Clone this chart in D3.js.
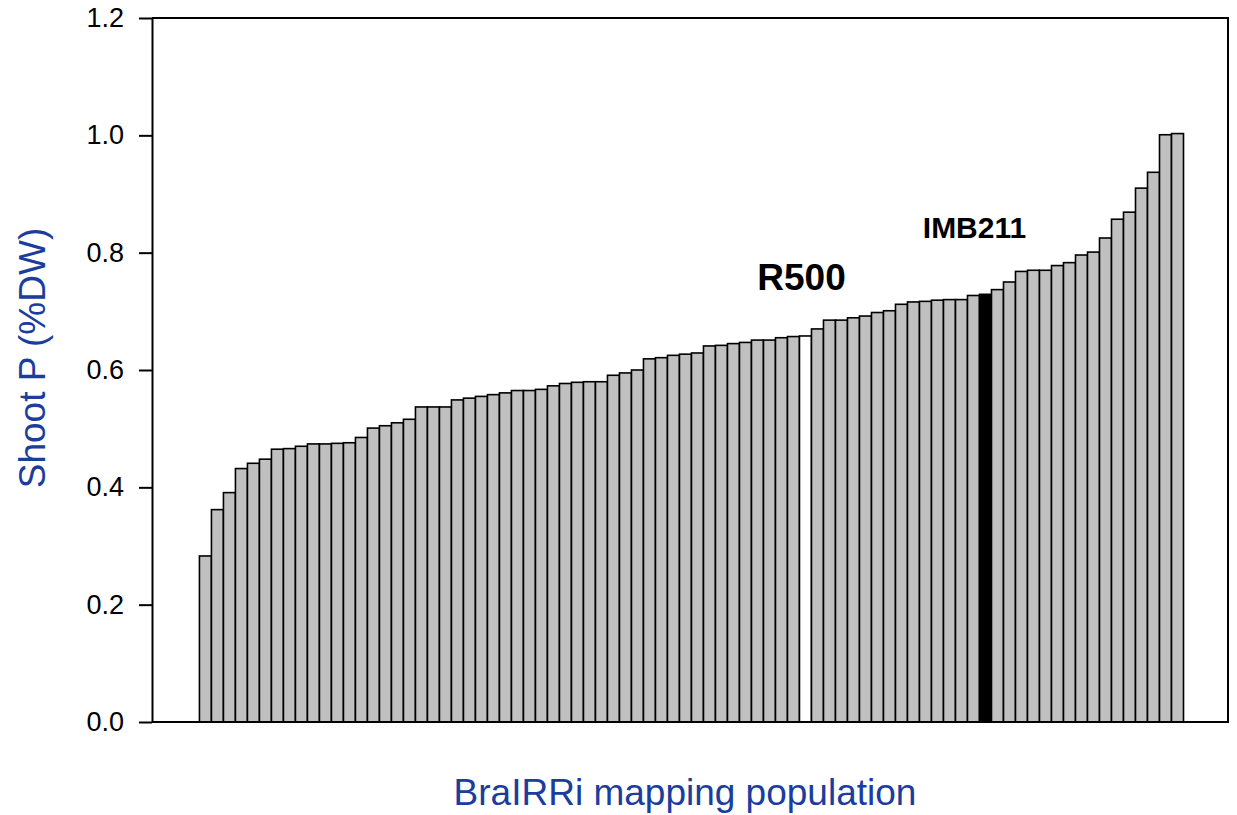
<!DOCTYPE html>
<meta charset="utf-8">
<style>
body { margin: 0; background: #fff; }
text { font-family: "Liberation Sans", Arial, sans-serif; }
.bar { stroke: #000; stroke-width: 1.6px; }
.axis path, .axis line { stroke: #000; stroke-width: 2px; }
.frame { fill: none; stroke: #000; stroke-width: 2px; }
</style>
<div id="chart"></div>
<script src="https://d3js.org/d3.v7.min.js"></script>
<script>
  // shoot P of each line, sorted ascending
  var shootP = [
    0.283, 0.362, 0.391, 0.432, 0.441, 0.448, 0.465, 0.466, 0.470, 0.474,
    0.474, 0.475, 0.476, 0.485, 0.501, 0.505, 0.510, 0.516, 0.537, 0.537,
    0.537, 0.549, 0.552, 0.555, 0.558, 0.561, 0.565, 0.565, 0.567, 0.573,
    0.577, 0.579, 0.580, 0.580, 0.591, 0.595, 0.600, 0.619, 0.621, 0.625,
    0.627, 0.629, 0.641, 0.642, 0.645, 0.647, 0.651, 0.651, 0.655, 0.657,
    0.658, 0.670, 0.685, 0.685, 0.689, 0.692, 0.698, 0.701, 0.712, 0.716,
    0.717, 0.719, 0.720, 0.720, 0.727, 0.729, 0.737, 0.750, 0.768, 0.770,
    0.770, 0.778, 0.783, 0.796, 0.801, 0.825, 0.857, 0.869, 0.910, 0.937,
    1.001, 1.003
  ];
  var lineIds = shootP.map(function(d, i) { return "L" + (i + 1); });
  var parentNames = ["R500", "IMB211"];
  var parentIds = ["L51", "L66"];
  var yTicks = [0, 0.2, 0.4, 0.6, 0.8, 1.0, 1.2];

  var width = 1237, height = 815;
  var plotLeft = 152, plotRight = 1228, plotTop = 18, plotBottom = 722;

  var svg = d3.select("#chart").append("svg")
    .attr("width", width)
    .attr("height", height);

  var x = d3.scaleBand()
    .domain(lineIds)
    .range([plotLeft, plotRight])
    .paddingInner(0)
    .paddingOuter(3.83)
    .align(0.516);

  var y = d3.scaleLinear()
    .domain([0, 1.2])
    .range([plotBottom, plotTop]);

  function barFill(id) {
    if (id === parentIds[0]) return "#ffffff";
    if (id === parentIds[1]) return "#000000";
    return "#c0c0c0";
  }

  svg.selectAll(".bar")
    .data(shootP)
    .enter()
    .append("rect")
    .attr("class", "bar")
    .attr("x", function(d, i) { return x(lineIds[i]); })
    .attr("y", function(d) { return y(d); })
    .attr("width", x.bandwidth())
    .attr("height", function(d) { return plotBottom - y(d); })
    .style("fill", function(d, i) { return barFill(lineIds[i]); });

  // frame (top + right + bottom)
  svg.append("path")
    .attr("class", "frame")
    .attr("d", "M" + plotLeft + "," + plotTop + "H" + plotRight + "V" + plotBottom + "H" + plotLeft);

  var yAxis = svg.append("g")
    .attr("class", "axis")
    .attr("transform", "translate(" + plotLeft + ",0)")
    .call(d3.axisLeft(y)
      .tickValues(yTicks)
      .tickFormat(d3.format(".1f"))
      .tickSizeInner(13)
      .tickSizeOuter(0)
      .tickPadding(15));

  yAxis.selectAll("text")
    .style("font-size", "27px")
    .style("font-family", "'Liberation Sans', Arial, sans-serif")
    .attr("fill", "#000");

  // parent labels
  var labelOffsets = { "R500": [-4, -46, 37], "IMB211": [-11, -56, 30] };
  parentNames.forEach(function(name, k) {
    var id = parentIds[k];
    var v = shootP[lineIds.indexOf(id)];
    var o = labelOffsets[name];
    svg.append("text")
      .attr("x", x(id) + x.bandwidth() / 2 + o[0])
      .attr("y", y(v) + o[1])
      .attr("text-anchor", "middle")
      .style("font-size", o[2] + "px")
      .style("font-weight", "bold")
      .text(name);
  });

  svg.append("text")
    .attr("transform", "translate(45,358) rotate(-90)")
    .attr("text-anchor", "middle")
    .style("font-size", "37px")
    .attr("fill", "#1a3d9e")
    .text("Shoot P (%DW)");

  svg.append("text")
    .attr("x", 685)
    .attr("y", 805)
    .attr("text-anchor", "middle")
    .style("font-size", "37px")
    .attr("fill", "#1a3d9e")
    .text("BraIRRi mapping population");
</script>
